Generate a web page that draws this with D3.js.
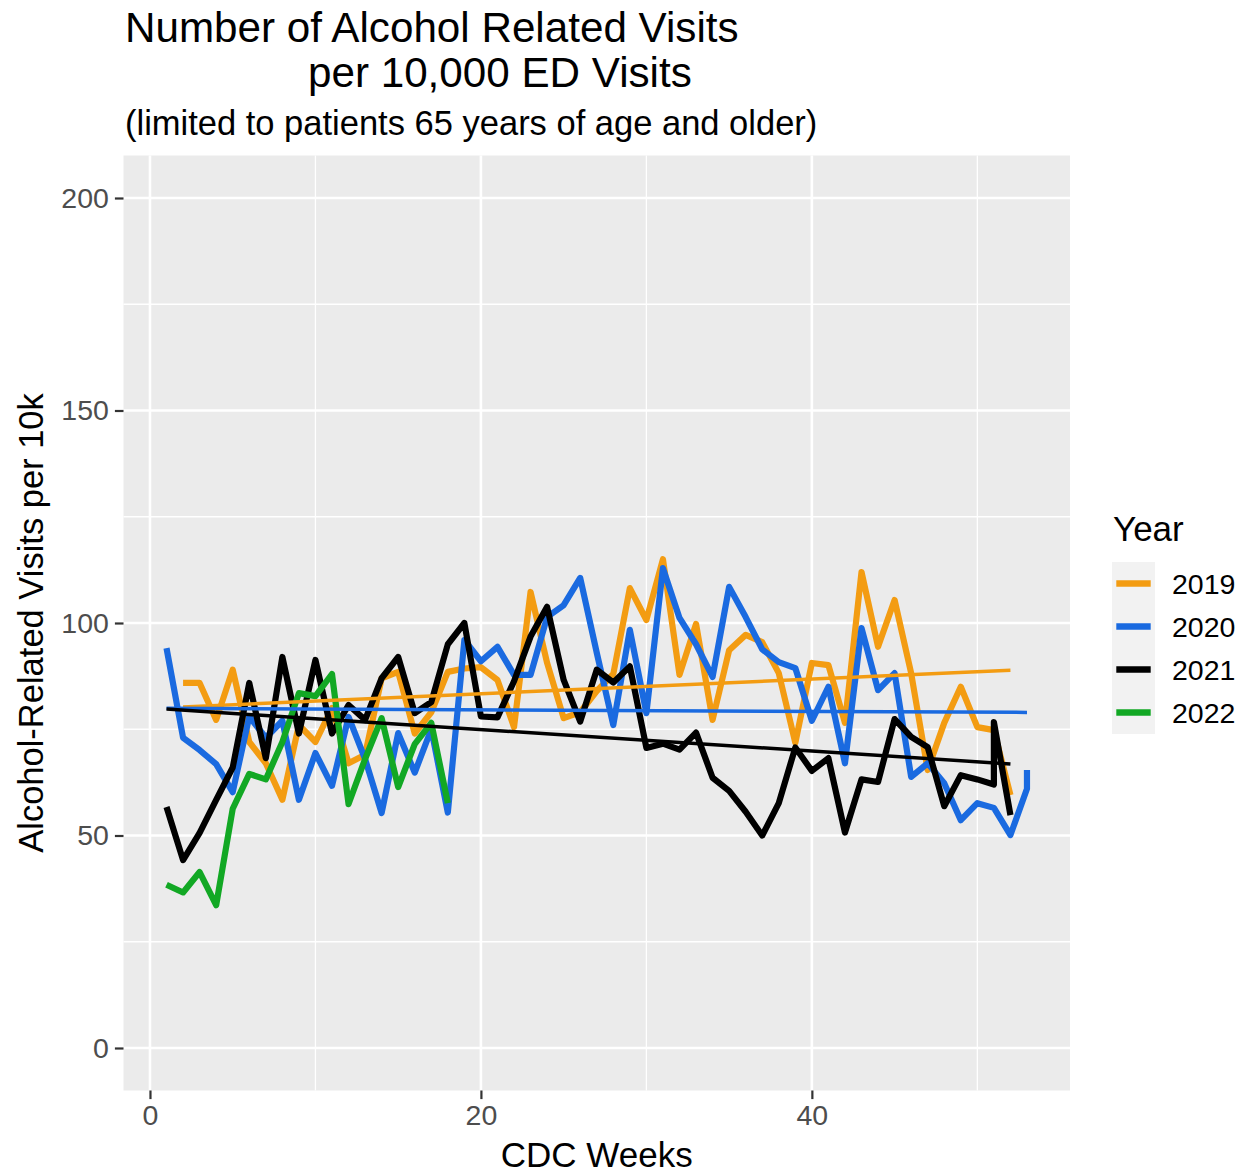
<!DOCTYPE html>
<html>
<head>
<meta charset="utf-8">
<script src="https://cdn.jsdelivr.net/npm/d3@7/dist/d3.min.js"></script>
<style>
  body { margin: 0; background: #fff; }
  text { font-family: "Liberation Sans", Arial, Helvetica, sans-serif; }
</style>
</head>
<body>
<div id="chart"></div>
<script>
// values (visits per 10k ED visits)
const years = ['2019', '2020', '2021', '2022'];
const colors = ['#F39C12', '#1A6AE0', '#000000', '#12A824'];

const weeks2019 = [2, 3, 4, 5, 6, 7, 8, 9, 10, 11, 12, 13, 14, 15, 16, 17, 18, 19, 20, 21, 22, 23, 24, 25, 26, 27,
  28, 29, 30, 31, 32, 33, 34, 35, 36, 37, 38, 39, 40, 41, 42, 43, 44, 45, 46, 47, 48, 49, 50, 51, 52];
const visits2019 = [85.9, 85.9, 77.2, 89, 72, 67, 58.4, 76, 72, 80, 67, 69, 87, 88.5, 74, 79, 88.5, 89.3, 89.6, 86.6,
  75.5, 107.3, 90.6, 77.6, 79, 84, 88, 108.2, 100.7, 115, 87.8, 99.8, 77.2, 93.6, 97.2, 95.5, 88.2, 71.8, 90.6, 90.1,
  76.5, 112, 94.4, 105.4, 88.2, 65.4, 76.5, 85, 75.5, 74.8, 59.5];

const weeks2020 = [1, 2, 3, 4, 5, 6, 7, 8, 9, 10, 11, 12, 13, 14, 15, 16, 17, 18, 19, 20, 21, 22, 23, 24, 25, 26, 27,
  28, 29, 30, 31, 32, 33, 34, 35, 36, 37, 38, 39, 40, 41, 42, 43, 44, 45, 46, 47, 48, 49, 50, 51, 52, 53, 53];
const visits2020 = [94.1, 73, 70.1, 66.8, 60.2, 78, 73, 77, 58.4, 69.4, 61.7, 77.9, 68, 55.3, 74.1, 64.8, 75, 55.4,
  96, 91, 94.4, 87.8, 87.8, 101.4, 104.2, 110.6, 93, 76, 98.4, 78.8, 112.9, 101.2, 95, 87.3, 108.5, 101.4, 93.8, 90.8,
  89.4, 77, 85, 67, 98.8, 84.2, 88.2, 63.8, 67, 62.3, 53.6, 57.6, 56.5, 50.1, 61, 65.4];

const weeks2021 = [1, 2, 3, 4, 5, 6, 7, 8, 9, 10, 11, 12, 13, 14, 15, 16, 17, 18, 19, 20, 21, 22, 23, 24, 25, 26, 27,
  28, 29, 30, 31, 32, 33, 34, 35, 36, 37, 38, 39, 40, 41, 42, 43, 44, 45, 46, 47, 48, 49, 50, 51, 51, 52];
const visits2021 = [56.7, 44.2, 50.6, 58.4, 66, 85.9, 68.2, 92, 74, 91.3, 74, 80.7, 77.2, 87, 92, 78.8, 81.4, 95,
  100, 78, 77.8, 86.3, 96.8, 103.8, 86.6, 76.8, 89, 86, 89.8, 70.6, 71.6, 70.2, 74.2, 63.6, 60.5, 55.6, 50, 57.6,
  70.7, 65.2, 68.2, 50.7, 63.2, 62.6, 77.4, 73.2, 70.8, 56.9, 64.2, 63.2, 62, 76.7, 54.8];

const weeks2022 = [1, 2, 3, 4, 5, 6, 7, 8, 9, 10, 11, 12, 13, 14, 15, 16, 17, 18];
const visits2022 = [38.4, 36.6, 41.4, 33.6, 56.3, 64.5, 63.2, 72, 83.5, 82.8, 88, 57.4, 68, 77.6, 61.4, 71.5, 76.5, 57.6];

// years that get a linear trend line
const trendYears = ['2019', '2020', '2021'];

const xMajor = [0, 20, 40];
const xMinor = [10, 30, 50];
const yMajor = [0, 50, 100, 150, 200];
const yMinor = [25, 75, 125, 175];

const series = years.map((yr, i) => {
  const wk = [weeks2019, weeks2020, weeks2021, weeks2022][i];
  const val = [visits2019, visits2020, visits2021, visits2022][i];
  return { year: yr, color: colors[i], points: wk.map((w, j) => [w, val[j]]) };
});

const width = 1246;
const height = 1174;
const panel = { left: 123.5, right: 1070, top: 155.5, bottom: 1090.5 };

const svg = d3.select('#chart')
  .append('svg')
    .attr('width', width)
    .attr('height', height);

const x = d3.scaleLinear()
  .domain([-1.6, 55.6])
  .range([panel.left, panel.right]);
const y = d3.scaleLinear()
  .domain([-10, 210])
  .range([panel.bottom, panel.top]);

svg.append('rect')
  .attr('x', panel.left)
  .attr('y', panel.top)
  .attr('width', panel.right - panel.left)
  .attr('height', panel.bottom - panel.top)
  .attr('fill', '#EBEBEB');

// grid
const grid = svg.append('g').attr('stroke', '#fff');
grid.selectAll('.ymin').data(yMinor).join('line')
  .attr('x1', panel.left).attr('x2', panel.right)
  .attr('y1', d => y(d)).attr('y2', d => y(d))
  .attr('stroke-width', 1.3);
grid.selectAll('.xmin').data(xMinor).join('line')
  .attr('y1', panel.top).attr('y2', panel.bottom)
  .attr('x1', d => x(d)).attr('x2', d => x(d))
  .attr('stroke-width', 1.3);
grid.selectAll('.ymaj').data(yMajor).join('line')
  .attr('x1', panel.left).attr('x2', panel.right)
  .attr('y1', d => y(d)).attr('y2', d => y(d))
  .attr('stroke-width', 2.6);
grid.selectAll('.xmaj').data(xMajor).join('line')
  .attr('y1', panel.top).attr('y2', panel.bottom)
  .attr('x1', d => x(d)).attr('x2', d => x(d))
  .attr('stroke-width', 2.6);

// data lines
const line = d3.line()
  .x(d => x(d[0]))
  .y(d => y(d[1]));

svg.append('g')
  .selectAll('path')
  .data(series)
  .join('path')
    .attr('d', d => line(d.points))
    .attr('fill', 'none')
    .attr('stroke', d => d.color)
    .attr('stroke-width', 6.2)
    .attr('stroke-linejoin', 'round');

// least squares fit, like geom_smooth(method = 'lm')
function fit(points) {
  const mx = d3.mean(points, p => p[0]);
  const my = d3.mean(points, p => p[1]);
  const sxy = d3.sum(points, p => (p[0] - mx) * (p[1] - my));
  const sxx = d3.sum(points, p => (p[0] - mx) ** 2);
  const b = sxy / sxx;
  const [lo, hi] = d3.extent(points, p => p[0]);
  return [[lo, my + b * (lo - mx)], [hi, my + b * (hi - mx)]];
}

svg.append('g')
  .selectAll('path')
  .data(series.filter(s => trendYears.includes(s.year)))
  .join('path')
    .attr('d', d => line(fit(d.points)))
    .attr('fill', 'none')
    .attr('stroke', d => d.color)
    .attr('stroke-width', 3.5);

// axes
const xAxis = svg.append('g')
  .attr('transform', `translate(0,${panel.bottom})`)
  .call(d3.axisBottom(x).tickValues(xMajor).tickSize(8.6).tickPadding(6));
const yAxis = svg.append('g')
  .attr('transform', `translate(${panel.left},0)`)
  .call(d3.axisLeft(y).tickValues(yMajor).tickSize(8.6).tickPadding(6));

[xAxis, yAxis].forEach(ax => {
  ax.select('.domain').remove();
  ax.selectAll('line').attr('stroke', '#333').attr('stroke-width', 2.2);
  ax.selectAll('text')
    .attr('fill', '#4D4D4D')
    .style('font-size', '28.5px')
    .style('font-family', '"Liberation Sans", Arial, sans-serif');
});

// titles
svg.append('text')
  .attr('x', 125)
  .attr('y', 42)
  .attr('font-size', 42.2)
  .text('Number of Alcohol Related Visits');
svg.append('text')
  .attr('x', 308)
  .attr('y', 87)
  .attr('font-size', 42.2)
  .text('per 10,000 ED Visits');
svg.append('text')
  .attr('x', 125)
  .attr('y', 135)
  .attr('font-size', 34.5)
  .text('(limited to patients 65 years of age and older)');

svg.append('text')
  .attr('x', (panel.left + panel.right) / 2)
  .attr('y', 1167)
  .attr('text-anchor', 'middle')
  .attr('font-size', 35)
  .text('CDC Weeks');

svg.append('text')
  .attr('transform', `translate(43,${(panel.top + panel.bottom) / 2}) rotate(-90)`)
  .attr('text-anchor', 'middle')
  .attr('font-size', 34.5)
  .text('Alcohol-Related Visits per 10k');

// legend
const legend = svg.append('g')
  .attr('transform', 'translate(1112,562)');

legend.append('text')
  .attr('x', 1)
  .attr('y', -21)
  .attr('font-size', 35)
  .text('Year');

const key = legend.selectAll('.key')
  .data(series)
  .join('g')
    .attr('class', 'key')
    .attr('transform', (d, i) => `translate(0,${i * 43})`);

key.append('rect')
  .attr('width', 43)
  .attr('height', 43)
  .attr('fill', '#F2F2F2');

key.append('line')
  .attr('x1', 4.3)
  .attr('x2', 38.7)
  .attr('y1', 21.5)
  .attr('y2', 21.5)
  .attr('stroke', d => d.color)
  .attr('stroke-width', 6.5);

key.append('text')
  .attr('x', 60)
  .attr('y', 21.5)
  .attr('dy', '0.36em')
  .attr('font-size', 28.5)
  .text(d => d.year);
</script>
</body>
</html>
